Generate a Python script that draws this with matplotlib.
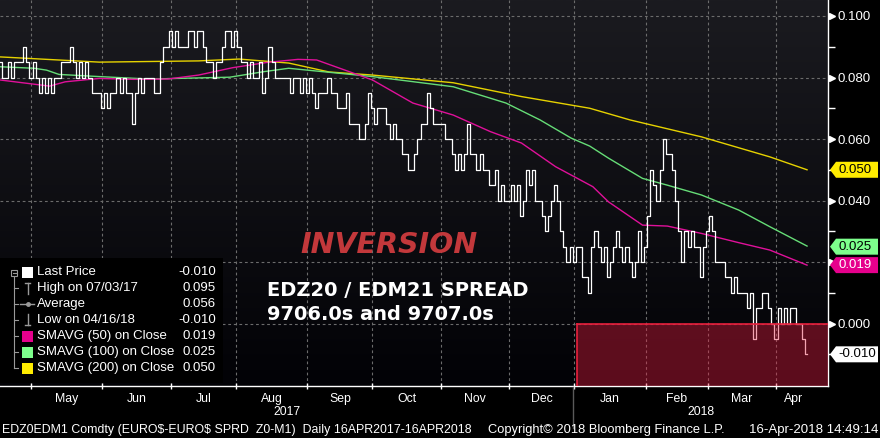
import numpy as np
import pandas as pd
import matplotlib
matplotlib.use("Agg")
import matplotlib.pyplot as plt
from matplotlib.patches import Rectangle, Polygon
from matplotlib.lines import Line2D
import matplotlib.transforms as mtransforms

plt.rcParams['font.family'] = ['Liberation Sans', 'DejaVu Sans']

# EDZ20 / EDM21 spread, daily last price in thousandths (85 -> 0.085)
spread = [
    85, 80, 80, 85, 80, 85, 85, 85, 90, 85,
    80, 85, 80, 75, 80, 75, 80, 75, 80, 80,
    85, 85, 85, 90, 85, 80, 85, 80, 85, 80,
    75, 75, 75, 70, 75, 70, 75, 75, 80, 75,
    80, 75, 75, 65, 75, 80, 75, 80, 80, 80,
    75, 75, 85, 90, 90, 95, 90, 95, 90, 90,
    90, 95, 95, 90, 95, 95, 90, 85, 85, 80,
    85, 85, 90, 95, 95, 90, 95, 90, 85, 85,
    80, 85, 80, 80, 85, 75, 80, 90, 85, 80,
    80, 80, 80, 80, 75, 80, 80, 75, 80, 75,
    80, 75, 70, 75, 75, 75, 80, 75, 75, 70,
    70, 70, 75, 65, 65, 65, 60, 60, 65, 75,
    70, 65, 70, 70, 70, 65, 60, 65, 60, 60,
    55, 55, 50, 50, 55, 60, 65, 65, 75, 70,
    65, 65, 65, 65, 60, 60, 55, 50, 55, 50,
    55, 65, 55, 55, 50, 55, 50, 50, 45, 45,
    50, 40, 45, 40, 40, 45, 40, 45, 35, 40,
    50, 45, 50, 40, 40, 35, 30, 35, 40, 45,
    40, 30, 25, 20, 25, 20, 25, 25, 15, 15,
    10, 25, 30, 25, 20, 25, 15, 20, 25, 30,
    25, 20, 25, 20, 15, 20, 30, 20, 25, 35,
    50, 45, 40, 50, 60, 55, 55, 50, 40, 30,
    20, 30, 25, 30, 25, 25, 15, 25, 30, 35,
    30, 20, 20, 20, 15, 15, 10, 15, 10, 10,
    10, 5, 10, -5, 5, 5, 10, 10, 5, 0,
    -5, 5, 0, 5, 0, 5, 5, 0, 0, -5, -10,
]
dates = pd.bdate_range('2017-04-17', '2018-04-16')

# moving averages (day index, thousandths)
sma50_day = [0, 16, 21, 32, 43, 54, 64, 75, 86, 96, 102, 120, 133, 146, 158,
             168, 179, 191, 196, 207, 215, 226, 238, 248, 260]
sma50_val = [79.2, 77.2, 78.6, 79.7, 79.4, 79.5, 80.8, 83.2, 84.9, 85.9, 85.7,
             79.2, 71.7, 67.8, 62.4, 58.7, 51.0, 44.5, 39.6, 32.0, 31.7, 29.3,
             26.3, 23.9, 19.0]
sma100_day = [0, 11, 15, 19, 32, 48, 74, 85, 93, 120, 146, 163, 174, 184, 190,
              196, 207, 215, 226, 238, 248, 260]
sma100_val = [83.5, 83.0, 82.4, 81.0, 80.3, 79.5, 80.1, 81.9, 83.0, 80.3, 77.0,
              71.7, 66.2, 60.3, 57.7, 53.8, 47.2, 45.0, 41.8, 36.9, 31.5, 25.2]
sma200_day = [0, 32, 64, 77, 93, 106, 120, 146, 168, 190, 203, 226, 248, 260]
sma200_val = [86.7, 85.0, 85.4, 86.0, 84.7, 81.8, 80.8, 78.3, 73.8, 70.0, 66.2,
              60.7, 54.2, 50.0]

months = ['May', 'Jun', 'Jul', 'Aug', 'Sep', 'Oct', 'Nov', 'Dec',
          'Jan', 'Feb', 'Mar', 'Apr']
years = ['2017', '2018']

legend_labels = ['Last Price', 'High on 07/03/17', 'Average', 'Low on 04/16/18',
                 'SMAVG (50) on Close', 'SMAVG (100) on Close', 'SMAVG (200) on Close']
legend_values = ['-0.010', '0.095', '0.056', '-0.010', '0.019', '0.025', '0.050']

tag_values = [0.050, 0.025, 0.019, -0.010]
tag_labels = ['0.050', '0.025', '0.019', '-0.010']

C_YEL = '#ffec00'
C_GRN = '#7dff8c'
C_MAG = '#e6008c'
W, H = 880, 438


def fx(px):
    return px / W


def fy(py):
    return 1 - py / H


y = np.array(spread) / 1000.0
x = np.arange(len(y))

fig = plt.figure(figsize=(8.8, 4.38), dpi=100, facecolor='black')
ax = fig.add_axes([0, fy(386), fx(828), 386 / H])
ax.set_facecolor('black')

x_max = 828 / 3.104
y_lo, y_hi = -0.0203, 0.1052
ax.set_xlim(0, x_max)
ax.set_ylim(y_lo, y_hi)

# dark vertical gradient background
grad = np.linspace(0, 1, 200)[:, None]
top = np.array([27, 27, 32]) / 255
bot = np.array([2, 2, 6]) / 255
img = top[None, None, :] * (1 - grad[..., None]) + bot[None, None, :] * grad[..., None]
ax.imshow(img, extent=[0, x_max, y_lo, y_hi], aspect='auto', zorder=0,
          interpolation='bilinear')

# month boundaries
month_starts = []
for m in pd.date_range('2017-05-01', '2018-04-01', freq='MS'):
    month_starts.append(int(np.searchsorted(dates, m)))
month_ends = month_starts[1:] + [len(dates)]
month_mid = [(a + b) / 2 for a, b in zip(month_starts, month_ends)]
jan_idx = int(np.searchsorted(dates, pd.Timestamp('2018-01-01')))

grid_kw = dict(color='#6c6c6c', lw=0.8, ls=(0, (2.5, 2.5)), zorder=1)
for ms in month_starts:
    ax.axvline(ms, **grid_kw)
for gy in [0.0, 0.02, 0.04, 0.06, 0.08, 0.10]:
    ax.axhline(gy, **grid_kw)

# moving averages
ax.plot(sma200_day, np.array(sma200_val) / 1000, color='#e6d200', lw=1.0, zorder=2)
ax.plot(sma100_day, np.array(sma100_val) / 1000, color='#66dd77', lw=1.0, zorder=2)
ax.plot(sma50_day, np.array(sma50_val) / 1000, color='#e0109a', lw=1.0, zorder=2)

# price
ax.step(x, y, where='mid', color='white', lw=0.9, zorder=3)

# inversion zone
start = int(np.searchsorted(dates, pd.Timestamp('2018-01-02')))
ax.add_patch(Rectangle((start, y_lo), x_max - start + 1, -y_lo,
                       facecolor=(229 / 255, 29 / 255, 63 / 255), alpha=0.4,
                       edgecolor='none', zorder=4))
ax.plot([start, x_max + 1], [0, 0], color='#e8203c', lw=1.2, zorder=5)
ax.plot([start, start], [y_lo, 0], color='#e8203c', lw=1.2, zorder=5)

# axes styling
for s in ['top', 'left']:
    ax.spines[s].set_visible(False)
ax.spines['right'].set_color('white')
ax.spines['bottom'].set_color('white')
ax.spines['right'].set_linewidth(1.0)
ax.spines['bottom'].set_linewidth(1.0)

ax.yaxis.tick_right()
ax.set_yticks([0.0, 0.04, 0.06, 0.08, 0.10])
ax.set_yticklabels(['0.000', '0.040', '0.060', '0.080', '0.100'])
ax.set_yticks([-0.01, 0.01, 0.02, 0.03, 0.05, 0.07, 0.09], minor=True)
ax.tick_params(axis='y', which='major', length=0, pad=7, labelcolor='white',
               labelsize=9.5)
ax.tick_params(axis='y', which='minor', length=5, width=1, color='white')

ax.set_xticks(month_starts)
ax.set_xticklabels([])
ax.set_xticks(month_mid, minor=True)
ax.set_xticklabels(months, minor=True)
ax.tick_params(axis='x', which='major', length=4, width=1, color='white',
               direction='inout')
ax.tick_params(axis='x', which='minor', length=0, pad=5, labelcolor='white',
               labelsize=8.8)

# caret ticks on the price axis
bt = mtransforms.blended_transform_factory(ax.transAxes, ax.transData)
ax.plot([1.0045] * 6, [0.0, 0.02, 0.04, 0.06, 0.08, 0.10], ls='none', marker='>',
        ms=5, color='white', transform=bt, clip_on=False, zorder=6)

# year labels and separator
bx = mtransforms.blended_transform_factory(ax.transData, fig.transFigure)
fig.text((0 + jan_idx) / 2, fy(412), years[0], transform=bx, ha='center',
         va='center', color='white', fontsize=8.8)
fig.text((jan_idx + x_max) / 2, fy(412), years[1], transform=bx, ha='center',
         va='center', color='white', fontsize=8.8)
fig.add_artist(Line2D([jan_idx - 0.3, jan_idx - 0.3], [fy(387), fy(428)],
                      transform=bx, color='#5a5a5a', lw=1))

# footer
fig.text(fx(2), fy(430),
         r'EDZ0EDM1 Comdty (EURO\$-EURO\$ SPRD  Z0-M1)  Daily 16APR2017-16APR2018',
         ha='left', va='center', color='white', fontsize=8.9)
fig.text(fx(488), fy(430), 'Copyright\u00a9 2018 Bloomberg Finance L.P.',
         ha='left', va='center', color='white', fontsize=9.3)
fig.text(fx(878), fy(430), '16-Apr-2018 14:49:14',
         ha='right', va='center', color='white', fontsize=9.5)

# annotations
fig.text(fx(300), fy(245), 'INVERSION', color='#c3383b', fontsize=20.5,
         family='DejaVu Sans', weight='bold', style='italic', va='center')
fig.text(fx(267), fy(291), 'EDZ20 / EDM21 SPREAD', color='white', fontsize=14.0,
         family='DejaVu Sans', weight='bold', va='center')
fig.text(fx(267), fy(314), '9706.0s and 9707.0s', color='white', fontsize=14.0,
         family='DejaVu Sans', weight='bold', va='center')

# value tags on the right axis
inv = fig.transFigure.inverted()
tag_colors = [C_YEL, C_GRN, C_MAG, 'white']
tag_text = ['black', 'black', 'white', 'black']
for v, lab, fc, tc in zip(tag_values, tag_labels, tag_colors, tag_text):
    ypx = ax.transData.transform((0, v))[1]
    pts = [(830, ypx), (836, ypx + 8), (878, ypx + 8), (878, ypx - 8), (836, ypx - 8)]
    pts = [tuple(inv.transform(p)) for p in pts]
    fig.add_artist(Polygon(pts, closed=True, facecolor=fc, edgecolor='none',
                           transform=fig.transFigure, zorder=5))
    fig.text(fx(838), inv.transform((0, ypx))[1], lab, color=tc, fontsize=9.5,
             va='center', ha='left', zorder=6)

# legend box
fig.add_artist(Rectangle((0, fy(383)), fx(223), fy(258) - fy(383),
                         facecolor='black', edgecolor='none',
                         transform=fig.transFigure, zorder=4))
rows = [272, 288, 304, 320, 336, 352, 368]
gray = '#9a9a9a'
fig.add_artist(Line2D([fx(14), fx(14)], [fy(276), fy(368)], color=gray, lw=0.8, zorder=5))
for r in rows[1:]:
    fig.add_artist(Line2D([fx(14), fx(18)], [fy(r), fy(r)], color=gray, lw=0.8, zorder=5))
fig.add_artist(Rectangle((fx(11), fy(276)), fx(6), fy(270) - fy(276), facecolor='black',
                         edgecolor=gray, lw=0.8, transform=fig.transFigure, zorder=5))
fig.add_artist(Line2D([fx(12.5), fx(15.5)], [fy(273), fy(273)], color=gray, lw=0.8, zorder=6))

sq_colors = ['white', None, None, None, C_MAG, C_GRN, C_YEL]
for r, c in zip(rows, sq_colors):
    if c is not None:
        fig.add_artist(Rectangle((fx(22), fy(r + 5.5)), fx(11), fy(r - 5.5) - fy(r + 5.5),
                                 facecolor=c, edgecolor='none',
                                 transform=fig.transFigure, zorder=5))
# high / average / low glyphs
fig.add_artist(Line2D([fx(27.5), fx(27.5)], [fy(283), fy(294)], color=gray, lw=1, zorder=5))
fig.add_artist(Line2D([fx(25), fx(30)], [fy(283), fy(283)], color=gray, lw=1, zorder=5))
fig.add_artist(Line2D([fx(20), fx(34)], [fy(304), fy(304)], color=gray, lw=1, zorder=5))
fig.add_artist(Line2D([fx(27.5)], [fy(304)], marker='o', ms=2.5, color=gray, zorder=5))
fig.add_artist(Line2D([fx(27.5), fx(27.5)], [fy(314), fy(325)], color=gray, lw=1, zorder=5))
fig.add_artist(Line2D([fx(25), fx(30)], [fy(325), fy(325)], color=gray, lw=1, zorder=5))

for r, lab, val in zip(rows, legend_labels, legend_values):
    fig.text(fx(37), fy(r), lab, color='white', fontsize=9.5, va='center', ha='left', zorder=6)
    fig.text(fx(216), fy(r), val, color='white', fontsize=9.5, va='center', ha='right', zorder=6)

fig.savefig('out.png', dpi=100, facecolor='black')
